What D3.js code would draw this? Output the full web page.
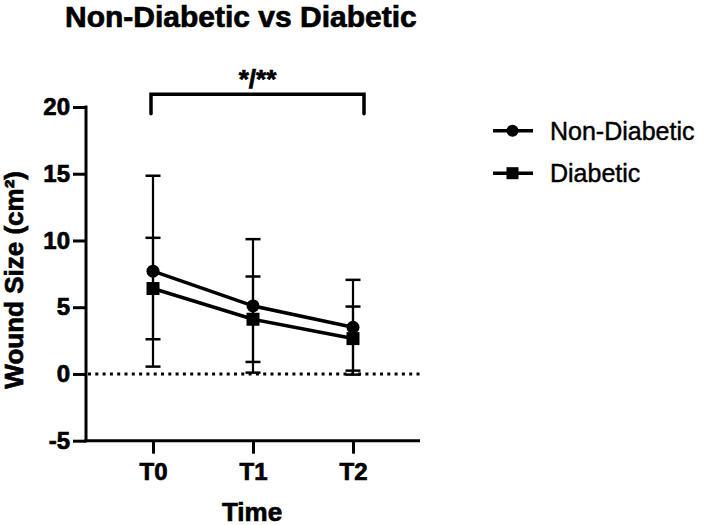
<!DOCTYPE html>
<html>
<head>
<meta charset="utf-8">
<script src="https://cdn.jsdelivr.net/npm/d3@7"></script>
<style>
  html, body { margin: 0; padding: 0; background: #fff; }
  svg { display: block; }
  text { font-family: "Liberation Sans", Arial, Helvetica, sans-serif; fill: #000; }
  .heavy { stroke: #000; stroke-width: 0.7px; paint-order: stroke; }
  .medium { stroke: #000; stroke-width: 0.45px; }
</style>
</head>
<body>
<svg id="chart" width="709" height="525"></svg>
<script>
const categories = ["T0", "T1", "T2"];
const nonDiabeticMean = [7.7, 5.1, 3.5];
const nonDiabeticSD = [7.15, 5.0, 3.55];
const diabeticMean = [6.4, 4.1, 2.65];
const diabeticSD = [3.8, 3.2, 2.4];
const yTicks = [-5, 0, 5, 10, 15, 20];
const yTickLabels = ["-5", "0", "5", "10", "15", "20"];
const seriesNames = ["Non-Diabetic", "Diabetic"];
const titleText = "Non-Diabetic vs Diabetic";
const sigText = "*/**";

const svg = d3.select("#chart");

const x = d3.scalePoint().domain(categories).range([86, 420]).padding(0.67);
const y = d3.scaleLinear().domain([-5, 20]).range([440.7, 107]);

const series = [
  { name: seriesNames[0], mean: nonDiabeticMean, sd: nonDiabeticSD, shape: "circle" },
  { name: seriesNames[1], mean: diabeticMean, sd: diabeticSD, shape: "square" }
];

// Title
svg.append("text").attr("class", "heavy").attr("x", 65).attr("y", 27)
  .attr("font-size", 30).attr("font-weight", "bold").text(titleText);

// Y axis
const yAxis = svg.append("g").attr("transform", "translate(86,0)")
  .call(d3.axisLeft(y).tickValues(yTicks).tickSize(13).tickPadding(3)
    .tickFormat((d, i) => yTickLabels[i]));
yAxis.select(".domain").attr("stroke", "#000").attr("stroke-width", 3)
  .attr("d", `M0,${y(20) - 1.5}V${y(-5) + 1.5}`);
yAxis.selectAll(".tick line").attr("stroke", "#000").attr("stroke-width", 3);
yAxis.selectAll(".tick text").attr("class", "heavy").attr("font-size", 24).attr("font-weight", "bold")
  .attr("font-family", "Liberation Sans, Arial, sans-serif").attr("fill", "#000");

// X axis
const xAxis = svg.append("g").attr("transform", `translate(0,${y(-5)})`)
  .call(d3.axisBottom(x).tickSize(13).tickPadding(9));
xAxis.select(".domain").attr("stroke", "#000").attr("stroke-width", 3)
  .attr("d", `M${86 - 1.5},0H420`);
xAxis.selectAll(".tick line").attr("stroke", "#000").attr("stroke-width", 3);
xAxis.selectAll(".tick text").attr("class", "heavy").attr("font-size", 24).attr("font-weight", "bold")
  .attr("font-family", "Liberation Sans, Arial, sans-serif").attr("fill", "#000");

// Axis titles
svg.append("text").attr("class", "heavy")
  .attr("transform", `translate(23,${(y(20) + y(-5)) / 2 + 6}) rotate(-90)`)
  .attr("text-anchor", "middle").attr("font-size", 26).attr("font-weight", "bold")
  .text("Wound Size (cm²)");
svg.append("text").attr("class", "heavy").attr("x", 252).attr("y", 520.5).attr("text-anchor", "middle")
  .attr("font-size", 26).attr("font-weight", "bold").text("Time");

// Zero dotted line
svg.append("line").attr("x1", 88).attr("x2", 420).attr("y1", y(0)).attr("y2", y(0))
  .attr("stroke", "#000").attr("stroke-width", 3).attr("stroke-dasharray", "3,4.3");

// Significance bracket
const bx1 = x("T0") - 2, bx2 = x("T2") + 11;
svg.append("path")
  .attr("d", `M${bx1},${y(19.5)}V${y(20.95)}H${bx2}V${y(19.5)}`)
  .attr("fill", "none").attr("stroke", "#000").attr("stroke-width", 3.5)
  .attr("stroke-linecap", "round").attr("stroke-linejoin", "miter");
svg.append("text").attr("class", "heavy").attr("x", (bx1 + bx2) / 2).attr("y", 88)
  .attr("text-anchor", "middle").attr("font-size", 26).attr("font-weight", "bold").text(sigText);

const plot = svg.append("g");

// Error bars
series.forEach(s => {
  const g = plot.append("g");
  categories.forEach((c, i) => {
    const cx = x(c), hi = y(s.mean[i] + s.sd[i]), lo = y(s.mean[i] - s.sd[i]);
    g.append("line").attr("x1", cx).attr("x2", cx).attr("y1", hi).attr("y2", lo)
      .attr("stroke", "#000").attr("stroke-width", 2.2);
    [hi, lo].forEach(v => g.append("line").attr("x1", cx - 7.5).attr("x2", cx + 7.5)
      .attr("y1", v).attr("y2", v).attr("stroke", "#000").attr("stroke-width", 2.5));
  });
});

// Lines
const line = d3.line().x((d, i) => x(categories[i])).y(d => y(d));
series.forEach(s => {
  plot.append("path").datum(s.mean).attr("d", line)
    .attr("fill", "none").attr("stroke", "#000").attr("stroke-width", 3.5);
});

// Markers
function marker(g, shape, cx, cy, size) {
  if (shape === "circle") {
    g.append("circle").attr("cx", cx).attr("cy", cy).attr("r", size / 2).attr("fill", "#000");
  } else {
    g.append("rect").attr("x", cx - size / 2).attr("y", cy - size / 2)
      .attr("width", size).attr("height", size).attr("fill", "#000");
  }
}
series.forEach(s => {
  categories.forEach((c, i) => marker(plot, s.shape, x(c), y(s.mean[i]), 13));
});

// Legend
const legend = svg.append("g");
series.forEach((s, i) => {
  const cy = 130.7 + i * 42.5;
  legend.append("line").attr("x1", 493).attr("x2", 533).attr("y1", cy).attr("y2", cy)
    .attr("stroke", "#000").attr("stroke-width", 3.5);
  marker(legend, s.shape, 512.5, cy, 12);
  legend.append("text").attr("class", "medium").attr("x", 550).attr("y", cy + 8.8)
    .attr("font-size", 25).text(s.name);
});
</script>
</body>
</html>
